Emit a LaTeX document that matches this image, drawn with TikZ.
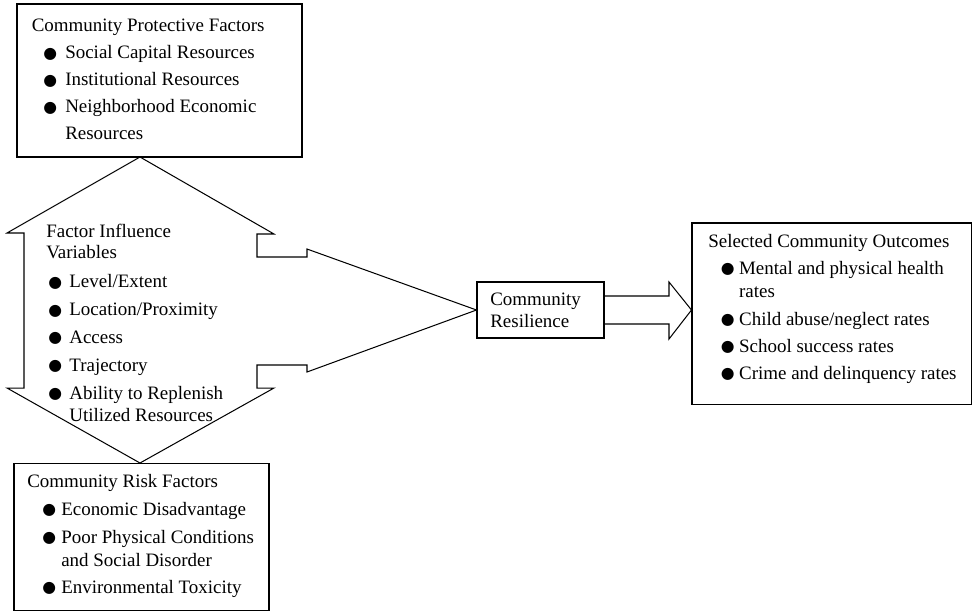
\documentclass[tikz,border=0pt]{standalone}
\usepackage{fontspec}
\setmainfont{Liberation Serif}
\newfontfamily\symfont{DejaVu Sans}
\usetikzlibrary{fit}
\newcommand\bdot{\raisebox{0.2pt}{\symfont\fontsize{10}{10}\selectfont ●}}
\newcommand\bi[2]{\makebox[#2][l]{\hspace{#1}\bdot}}
\begin{document}
\begin{tikzpicture}[x=0.633pt,y=-0.633pt,
  box/.style={draw, line width=0.65pt, inner sep=0pt},
  txt/.style={anchor=north west, inner sep=0pt, align=left, font=\fontsize{12}{14}\selectfont},
  shapeline/.style={draw, line width=0.65pt, line join=miter}]
\useasboundingbox (0,0) rectangle (973,612);
% boxes
\node[box, fit={(17,4) (302,157)}] (pbox) {};
\node[box, fit={(14,463) (269,610)}] (rbox) {};
\node[box, fit={(692,223) (971,404)}] (obox) {};
\node[box, fit={(477,282) (604,338)}] (res) {};
% central block arrow shape
\coordinate (topapex) at (140,157);
\coordinate (botapex) at (140,463);
\path[shapeline] (topapex) -- (274,234) -- (257,234) -- (257,257) -- (307,257) -- (307,249)
  -- (res.west) -- (307,372) -- (307,365) -- (257,365) -- (257,388) -- (274,388)
  -- (botapex) -- (7,388) -- (24,388) -- (24,233) -- (7,233) -- cycle;
% right block arrow
\path[shapeline] (res.east |- 0,296) -- (669,296) -- (669,282) -- (obox.west |- res.east)
  -- (669,339) -- (669,324) -- (res.east |- 0,324);
% texts
\node[txt] (ptxt) at (31.5,16) {\strut Community Protective Factors\\[3.1pt]
  \bi{7.3pt}{21.2pt}Social Capital Resources\\[3.1pt]
  \bi{7.3pt}{21.2pt}Institutional Resources\\[3.1pt]
  \bi{7.3pt}{21.2pt}Neighborhood Economic\\[3.1pt]
  \hspace*{21.2pt}Resources};
\node[txt] (ftxt) at (46,221.5) {\strut Factor Influence\\[-0.7pt]
  Variables\\[4.4pt]
  \bi{1.3pt}{14.6pt}Level/Extent\\[3.7pt]
  \bi{1.3pt}{14.6pt}Location/Proximity\\[3.7pt]
  \bi{1.3pt}{14.6pt}Access\\[3.7pt]
  \bi{1.3pt}{14.6pt}Trajectory\\[3.7pt]
  \bi{1.3pt}{14.6pt}Ability to Replenish\\
  \hspace*{14.6pt}Utilized Resources};
\node[txt] (rtxt) at (27,471.5) {\strut Community Risk Factors\\[3.7pt]
  \bi{9.5pt}{21.5pt}Economic Disadvantage\\[3.7pt]
  \bi{9.5pt}{21.5pt}Poor Physical Conditions\\[0.5pt]
  \hspace*{21.5pt}and Social Disorder\\[3pt]
  \bi{9.5pt}{21.5pt}Environmental Toxicity};
\node[txt] (otxt) at (708,231.5) {\strut Selected Community Outcomes\\[3pt]
  \bi{8pt}{19.5pt}Mental and physical health\\[0.5pt]
  \hspace*{19.5pt}rates\\[3.7pt]
  \bi{8pt}{19.5pt}Child abuse/neglect rates\\[3.1pt]
  \bi{8pt}{19.5pt}School success rates\\[3.1pt]
  \bi{8pt}{19.5pt}Crime and delinquency rates};
\node[txt] (restxt) at (490,289.5) {\strut Community\\Resilience};
\end{tikzpicture}
\end{document}
